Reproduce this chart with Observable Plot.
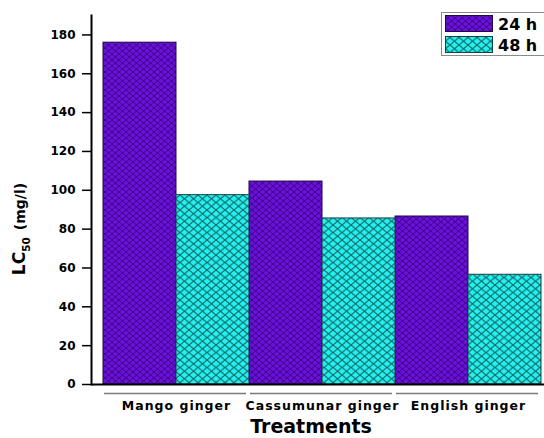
<!DOCTYPE html>
<html><head><meta charset="utf-8">
<script src="https://cdn.jsdelivr.net/npm/d3@7"></script>
<script src="https://cdn.jsdelivr.net/npm/@observablehq/plot@0.6"></script>
<style>
body{margin:0;background:#fff}
svg{font-family:"DejaVu Sans",sans-serif}
</style>
</head><body><div id="chart"></div>
<script>
const categories = ["Mango ginger", "Cassumunar ginger", "English ginger"];
const seriesNames = ["24 h", "48 h"];
const lc24 = [176, 104.5, 86.5];
const lc48 = [97.5, 85.5, 56.5];
const yTicks = [0, 20, 40, 60, 80, 100, 120, 140, 160, 180];

const rows24 = categories.map((c, i) => ({treatment: c, series: seriesNames[0], value: lc24[i]}));
const rows48 = categories.map((c, i) => ({treatment: c, series: seriesNames[1], value: lc48[i]}));
const underline = categories.map(c => ({treatment: c, base: 0}));

const W = 544, H = 438, ML = 91, MR = 0, MT = 15, MB = 54;
const inL = 12, inR = 3;
const half = (W - ML - MR - inL - inR) / categories.length / 2;

const svg = Plot.plot({
  width: W, height: H,
  marginLeft: ML, marginRight: MR, marginTop: MT, marginBottom: MB,
  style: {background: "white", fontFamily: "DejaVu Sans, sans-serif", color: "black"},
  x: {domain: categories, padding: 0, insetLeft: inL, insetRight: inR, axis: null},
  y: {domain: [0, 190], axis: null},
  marks: [
    Plot.barY(rows24, {x: "treatment", y: "value", fill: "url(#pat24)", stroke: "#220645", strokeWidth: 1, insetRight: half}),
    Plot.barY(rows48, {x: "treatment", y: "value", fill: "url(#pat48)", stroke: "#173f44", strokeWidth: 1, insetLeft: half}),
    Plot.ruleY(underline, {x1: "treatment", x2: "treatment", y: "base", dy: 9, insetLeft: 1, insetRight: 3, stroke: "#7a7a7a", strokeWidth: 1.5}),
    Plot.axisY({ticks: yTicks, tickSize: 9, tickPadding: 7, tickFormat: d => d, fontWeight: "bold", fontSize: 12, strokeWidth: 1.5, label: null}),
    Plot.axisX({tickSize: 0, tickPadding: 17, fontWeight: "bold", fontSize: 12.5, label: null}),
    Plot.ruleY([0], {stroke: "black", strokeWidth: 2}),
    Plot.frame({anchor: "left", stroke: "black", strokeWidth: 2})
  ]
});

const s = d3.select(svg);
const defs = s.insert("defs", ":first-child");
function pattern(id, w, h, bg, line, lw) {
  const p = defs.append("pattern").attr("id", id).attr("patternUnits", "userSpaceOnUse")
    .attr("width", w).attr("height", h);
  p.append("rect").attr("width", w).attr("height", h).attr("fill", bg);
  p.append("path").attr("d", `M0,0L${w},${h}M${w},0L0,${h}`).attr("stroke", line).attr("stroke-width", lw).attr("fill", "none");
}
pattern("pat24", 7, 6, "#6a0fdc", "#3a0880", 1);
pattern("pat48", 9, 7.5, "#22f2ef", "#17696d", 1.2);

// x-axis tick labels letter spacing
s.selectAll("g[aria-label='x-axis tick label'] text").attr("letter-spacing", "1px");

// y label
const yl = s.append("text").attr("transform", "translate(25,229) rotate(-90)")
  .attr("text-anchor", "middle").attr("font-weight", "bold").attr("fill", "black");
yl.append("tspan").attr("font-size", 17).text("LC");
yl.append("tspan").attr("font-size", 10.5).attr("dy", 5).text("50");
yl.append("tspan").attr("font-size", 14).attr("dy", -5).attr("dx", 7).text("(mg/l)");

// x label
s.append("text").attr("x", 311).attr("y", 433).attr("text-anchor", "middle")
  .attr("font-size", 19).attr("font-weight", "bold").attr("fill", "black").text("Treatments");

// legend
const lg = s.append("g").attr("text-anchor", "start");
lg.append("rect").attr("x", 441.5).attr("y", 12.5).attr("width", 110).attr("height", 43)
  .attr("fill", "white").attr("stroke", "#8a8a8a").attr("stroke-width", 1);
seriesNames.forEach((name, i) => {
  const y0 = 15.5 + i * 21;
  lg.append("rect").attr("x", 445.5).attr("y", y0).attr("width", 47).attr("height", 16)
    .attr("fill", i === 0 ? "url(#pat24)" : "url(#pat48)").attr("stroke", i === 0 ? "#220645" : "#173f44");
  lg.append("text").attr("x", 498).attr("y", y0 + 14).attr("text-anchor", "start").attr("font-size", 16).attr("font-weight", "bold")
    .attr("fill", "black").text(name);
});

document.getElementById("chart").appendChild(svg);
</script>
</body></html>
